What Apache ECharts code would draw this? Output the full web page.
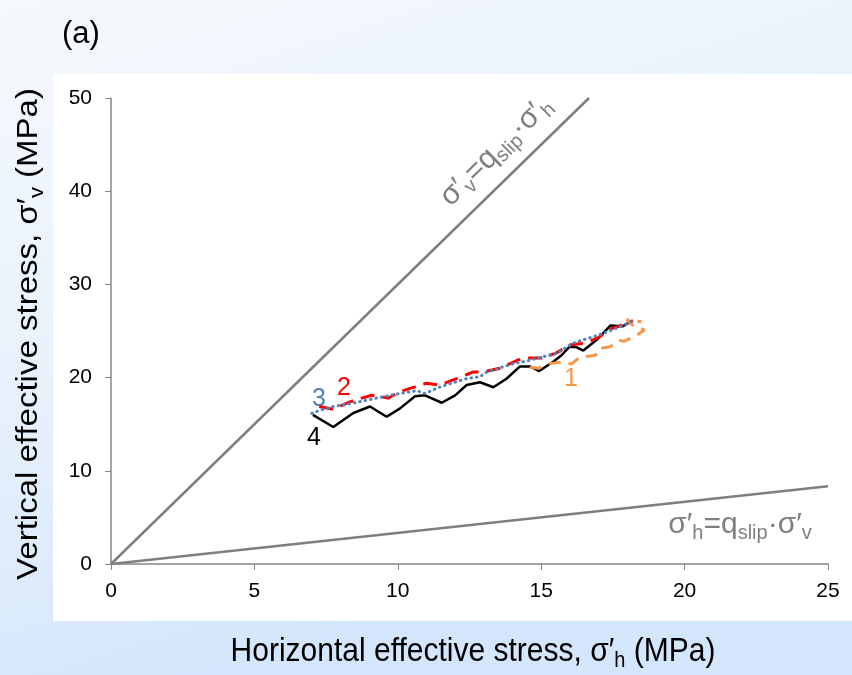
<!DOCTYPE html>
<html>
<head>
<meta charset="utf-8">
<script src="https://cdn.jsdelivr.net/npm/echarts@6/dist/echarts.min.js"></script>
<style>
html,body{margin:0;padding:0;}
#c{width:852px;height:675px;}
</style>
</head>
<body>
<div id="c"></div>
<script>
// ---- data ----
const xTicks = [0, 5, 10, 15, 20, 25];
const yTicks = [0, 10, 20, 30, 40, 50];
const slipLineUpper = [[0, 0], [16.667, 50]];   // σ'v = σ'h / q_slip
const slipLineLower = [[0, 0], [25, 8.333]];    // σ'v = q_slip·σ'h (σ'h = σ'v / q_slip)
const path1 = [[14.6,21.1],[14.9,21.0],[15.3,21.5],[15.8,21.7],[16.05,21.45],[16.35,22.2],[16.9,22.4],[17.0,23.1],[17.4,23.3],[17.7,24.0],[17.9,23.9],[18.3,24.5],[18.6,25.1],[18.2,25.6],[17.98,26.2],[18.5,26.0]];
const path2 = [[7.26,16.9],[7.75,16.6],[8.33,17.4],[8.74,17.8],[9.09,18.1],[9.67,17.8],[10.08,18.5],[10.6,19.0],[11.0,19.4],[11.47,19.2],[12.05,19.9],[12.63,20.6],[12.98,20.6],[13.56,21.0],[14.2,21.9],[14.6,22.1],[15.0,22.1],[15.5,22.6],[16.0,23.5],[16.5,23.7],[17.0,24.3],[17.4,25.2],[17.7,25.5],[18.2,26.1]];
const path3 = [[7.0,16.17],[7.29,16.5],[7.75,16.9],[8.33,17.2],[9.26,17.8],[10.08,18.3],[10.66,18.6],[10.95,18.3],[11.47,19.0],[12.4,19.9],[12.87,20.1],[13.1,20.6],[14.03,21.5],[14.38,21.7],[15.54,22.6],[16.12,23.7],[17.17,24.75],[17.86,25.6],[18.2,26.1]];
const path4 = [[7.04,16.0],[7.75,14.7],[8.45,16.2],[9.03,16.9],[9.61,15.8],[10.08,16.7],[10.6,18.0],[10.95,18.1],[11.53,17.3],[12.0,18.1],[12.4,19.2],[12.87,19.5],[13.33,18.96],[13.8,19.9],[14.26,21.2],[14.61,21.2],[14.93,20.7],[15.42,21.7],[15.71,22.4],[15.98,23.3],[16.24,23.25],[16.47,22.9],[16.99,24.2],[17.42,25.6],[17.84,25.5],[18.16,26.1]];
const pathLabels = ['1', '2', '3', '4'];

const chart = echarts.init(document.getElementById('c'), null, {renderer: 'canvas'});
const FONT = 'Liberation Sans, Arial, sans-serif';
const GRAY = '#7f7f7f';

const grayRich = {
  m: {fontSize: 30, fontFamily: FONT, fill: GRAY},
  s: {fontSize: 20, fontFamily: FONT, fill: GRAY, padding: [16, 0, 0, 0]}
};
const blackRich = {
  m: {fontSize: 30, fontFamily: FONT, fill: '#000'},
  s: {fontSize: 20, fontFamily: FONT, fill: '#000', padding: [16, 0, 0, 0]}
};

const option = {
  animation: false,
  backgroundColor: {
    type: 'linear', x: 0, y: 0, x2: 0.25, y2: 1,
    colorStops: [{offset: 0, color: '#f5f9fd'}, {offset: 0.5, color: '#e9f2fc'}, {offset: 1, color: '#d4e6fb'}]
  },
  grid: {left: 111, right: 24, top: 98, bottom: 111},
  xAxis: {
    type: 'value', min: 0, max: 25, interval: 5,
    axisLine: {show: true, lineStyle: {color: '#868686', width: 1.5}},
    axisTick: {show: true, length: 6, lineStyle: {color: '#868686'}},
    axisLabel: {fontSize: 21, fontFamily: FONT, color: '#000', margin: 17,
      formatter: v => xTicks.includes(v) ? String(v) : ''},
    splitLine: {show: false}
  },
  yAxis: {
    type: 'value', min: 0, max: 50, interval: 10,
    axisLine: {show: true, lineStyle: {color: '#868686', width: 1.5}},
    axisTick: {show: true, length: 6, lineStyle: {color: '#868686'}},
    axisLabel: {fontSize: 21, fontFamily: FONT, color: '#000', margin: 19,
      formatter: v => yTicks.includes(v) ? String(v) : ''},
    splitLine: {show: false}
  },
  graphic: [
    {type: 'rect', z: -100, shape: {x: 53, y: 74, width: 799, height: 547}, style: {fill: '#ffffff'}, silent: true},
    {type: 'text', x: 62, y: 34, style: {text: '(a)', font: '31px ' + FONT, fill: '#000', verticalAlign: 'middle'}},
    {type: 'text', x: 473, y: 652, scaleY: 1.08, style: {
      text: '{m|Horizontal effective stress, σ′}{s|h}{m| (MPa)}',
      align: 'center', verticalAlign: 'middle', rich: blackRich
    }},
    {type: 'text', x: 29, y: 334, rotation: Math.PI / 2, scaleX: 1.1, style: {
      text: '{m|Vertical effective stress, σ′}{s|v}{m| (MPa)}',
      align: 'center', verticalAlign: 'middle', rich: blackRich
    }},
    {type: 'text', x: 496, y: 151, rotation: 0.775, style: {
      text: '{m|σ′}{s|v}{m|=q}{s|slip}{m|·σ′}{s|h}', align: 'center', verticalAlign: 'middle', rich: grayRich
    }},
    {type: 'text', x: 740, y: 525, style: {
      text: '{m|σ′}{s|h}{m|=q}{s|slip}{m|·σ′}{s|v}', align: 'center', verticalAlign: 'middle', rich: grayRich
    }},
    {type: 'text', x: 571, y: 379, style: {text: pathLabels[0], font: '25px ' + FONT, fill: '#f79646', align: 'center', verticalAlign: 'middle'}},
    {type: 'text', x: 344, y: 388, style: {text: pathLabels[1], font: '25px ' + FONT, fill: '#ff0000', align: 'center', verticalAlign: 'middle'}},
    {type: 'text', x: 319, y: 399, style: {text: pathLabels[2], font: '25px ' + FONT, fill: '#4f81bd', align: 'center', verticalAlign: 'middle'}},
    {type: 'text', x: 314, y: 438, style: {text: pathLabels[3], font: '25px ' + FONT, fill: '#000000', align: 'center', verticalAlign: 'middle'}}
  ],
  series: [
    {type: 'line', data: slipLineUpper, symbol: 'none', lineStyle: {color: GRAY, width: 2.5}, z: 1},
    {type: 'line', data: slipLineLower, symbol: 'none', lineStyle: {color: GRAY, width: 2.5}, z: 1},
    {type: 'line', data: path4, symbol: 'none', lineStyle: {color: '#000000', width: 2.5}, z: 3},
    {type: 'line', data: path3, symbol: 'none', lineStyle: {color: '#4f81bd', width: 3, type: [0.5, 5], cap: 'round'}, z: 5},
    {type: 'line', data: path2, symbol: 'none', lineStyle: {color: '#ff0000', width: 3, type: [14, 8]}, z: 4},
    {type: 'line', data: path1, symbol: 'none', lineStyle: {color: '#f79646', width: 3, type: [12, 8]}, z: 4}
  ]
};
chart.setOption(option);
</script>
</body>
</html>
